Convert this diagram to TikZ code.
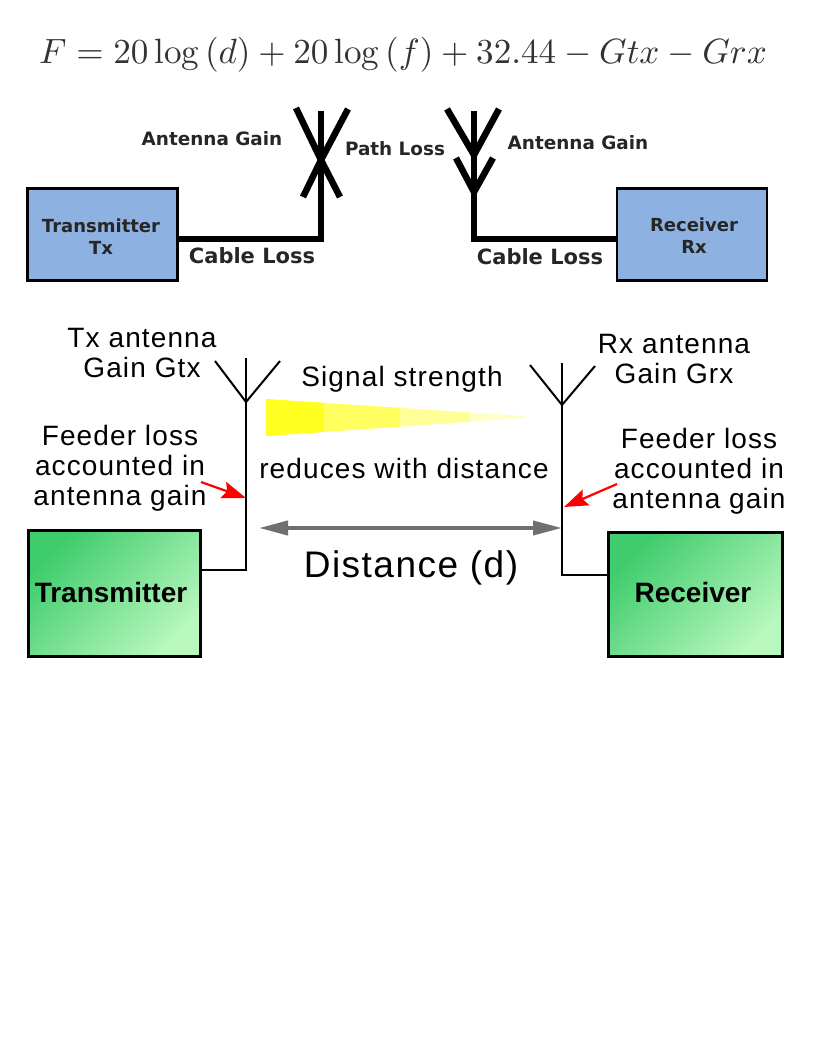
\documentclass[tikz,border=0pt]{standalone}
\usepackage{fontspec}
\usepackage{amsmath}
\newfontfamily\labelfont{DejaVu Sans}
\newfontfamily\wideFont[LetterSpace=4]{Liberation Sans}
\usetikzlibrary{arrows.meta}
\definecolor{boxblue}{HTML}{8DB1E0}
\definecolor{boxdark}{HTML}{3FCC6C}
\definecolor{boxlight}{HTML}{B8F7BE}
\definecolor{beamgrey}{HTML}{707070}
\definecolor{beamone}{HTML}{FFFF20}
\definecolor{beamtwo}{HTML}{FFFF60}
\definecolor{beamthree}{HTML}{FFFF98}
\definecolor{beamfour}{HTML}{FFFFC8}
\newcommand{\wideFontBold}{\fontspec{Liberation Sans}[LetterSpace=0]\bfseries\fontsize{28}{30}\selectfont}
\tikzset{
  bluebox/.style={draw=black, line width=2.5pt, fill=boxblue, minimum width=150pt, minimum height=92pt},
  greenbox/.style={draw=black, line width=3.5pt, left color=boxdark, right color=boxlight, shading angle=45},
  boxname/.style={align=center, text=black!85, font=\labelfont\bfseries\fontsize{18}{22}\selectfont},
  greenname/.style={font=\wideFontBold},
  boldlabel/.style={text=black!85, font=\labelfont\bfseries\fontsize{18.4}{20}\selectfont},
  cablelabel/.style={text=black!85, font=\labelfont\bfseries\fontsize{21}{24}\selectfont},
  widelabel/.style={align=center, font=\wideFont\fontsize{28}{30}\selectfont},
  thickwire/.style={line width=6.5pt, line join=miter},
  thinwire/.style={line width=2.6pt, line join=miter},
  thinarm/.style={line width=2pt},
  feederarrow/.style={draw=red, line width=2.2pt, -{Stealth[length=24pt,width=17pt,inset=4pt]}},
  distarrow/.style={draw=beamgrey, line width=4pt, {Triangle[length=29pt,width=14pt]}-{Triangle[length=29pt,width=14pt]}}
}
\begin{document}
\begin{tikzpicture}[x=1pt,y=-1pt]
  \useasboundingbox (0,0) rectangle (816,1056);

  % link budget formula
  \node[text=black!80, scale=3.51] (formula) at (403,55)
    {$F = 20\log\left(d\right) + 20\log\left(f\right) + 32.44 - Gtx - Grx$};

  % upper diagram
  \node[bluebox] (txbox) at (102.5,234.5) {};
  \node[bluebox] (rxbox) at (692,234.5) {};
  \node[boxname] (txname) at (101,237) {Transmitter\\Tx};
  \node[boxname] (rxname) at (694,236) {Receiver\\Rx};
  \coordinate (txfoot) at (321,239);
  \coordinate (txtop) at (321,111);
  \coordinate (txmid) at (321,160);
  \coordinate (rxfoot) at (474,239);
  \coordinate (rxtop) at (474,111);
  \coordinate (rxmid) at (474,155);
  \coordinate (rxlow) at (474,192);
  \draw[thickwire] (txbox.east |- txfoot) -- (txfoot) -- (txtop);
  \draw[thickwire] (rxbox.west |- rxfoot) -- (rxfoot) -- (rxtop);
  \draw[thickwire] (296,108) -- (txmid) -- (340,197);
  \draw[thickwire] (348,109) -- (txmid) -- (303,197);
  \draw[thickwire] (447,109) -- (rxmid) -- (499,109);
  \draw[thickwire] (456,158) -- (rxlow) -- (493,158);
  \node[boldlabel] (gainl) at (212,139) {Antenna Gain};
  \node[boldlabel] (pathloss) at (395,149) {Path Loss};
  \node[boldlabel] (gainr) at (578,143) {Antenna Gain};
  \node[cablelabel] (cablel) at (252,256) {Cable Loss};
  \node[cablelabel] (cabler) at (540,257) {Cable Loss};

  % lower diagram
  \node[greenbox, minimum width=172pt, minimum height=126pt] (txgreen) at (114.5,593.5) {};
  \node[greenbox, minimum width=174pt, minimum height=124pt] (rxgreen) at (695.5,594.5) {};
  \node[greenname] (txgreenname) at (111,592) {Transmitter};
  \node[greenname] (rxgreenname) at (693,592) {Receiver};
  \coordinate (txant) at (246,402);
  \coordinate (txanttop) at (246,358);
  \coordinate (txbend) at (246,570);
  \coordinate (rxant) at (562,405);
  \coordinate (rxanttop) at (562,363);
  \coordinate (rxbend) at (562,575);
  \draw[thinwire] (txgreen.east |- txbend) -- (txbend) -- (txanttop);
  \draw[thinwire] (rxgreen.west |- rxbend) -- (rxbend) -- (rxanttop);
  \draw[thinarm] (215,361) -- (txant) -- (280,361);
  \draw[thinarm] (530,365) -- (rxant) -- (595,366);

  % signal beam, fades in steps
  \fill[beamone] (266,399) -- (324,402.8) -- (324,432) -- (266,436) -- cycle;
  \fill[beamtwo] (324,402.8) -- (400,407.8) -- (400,426.7) -- (324,432) -- cycle;
  \fill[beamthree] (400,407.8) -- (470,412.4) -- (470,421.8) -- (400,426.7) -- cycle;
  \fill[beamfour] (470,412.4) -- (525,416) -- (525,418) -- (470,421.8) -- cycle;

  \node[widelabel] (txgain) at (142,353) {Tx antenna\\Gain Gtx};
  \node[widelabel] (rxgain) at (674,359) {Rx antenna\\Gain Grx};
  \node[widelabel] (strength) at (402,379) {Signal strength};
  \node[widelabel] (reduces) at (404,468) {reduces with distance};
  \node[widelabel] (txfeeder) at (120,468) {Feeder loss\\accounted in\\antenna gain};
  \node[widelabel] (rxfeeder) at (699,471) {Feeder loss\\accounted in\\antenna gain};
  \node[widelabel, font=\wideFont\fontsize{37}{40}\selectfont] (distance) at (411,568) {Distance (d)};

  \coordinate (txarrowtail) at (201,482);
  \coordinate (txarrowtip) at (246,498);
  \coordinate (rxarrowtail) at (617,484);
  \coordinate (rxarrowtip) at (564,507);
  \coordinate (distleft) at (259,528);
  \coordinate (distright) at (562,528);
  \draw[feederarrow] (txarrowtail) -- (txarrowtip);
  \draw[feederarrow] (rxarrowtail) -- (rxarrowtip);
  \draw[distarrow] (distleft) -- (distright);
\end{tikzpicture}
\end{document}
